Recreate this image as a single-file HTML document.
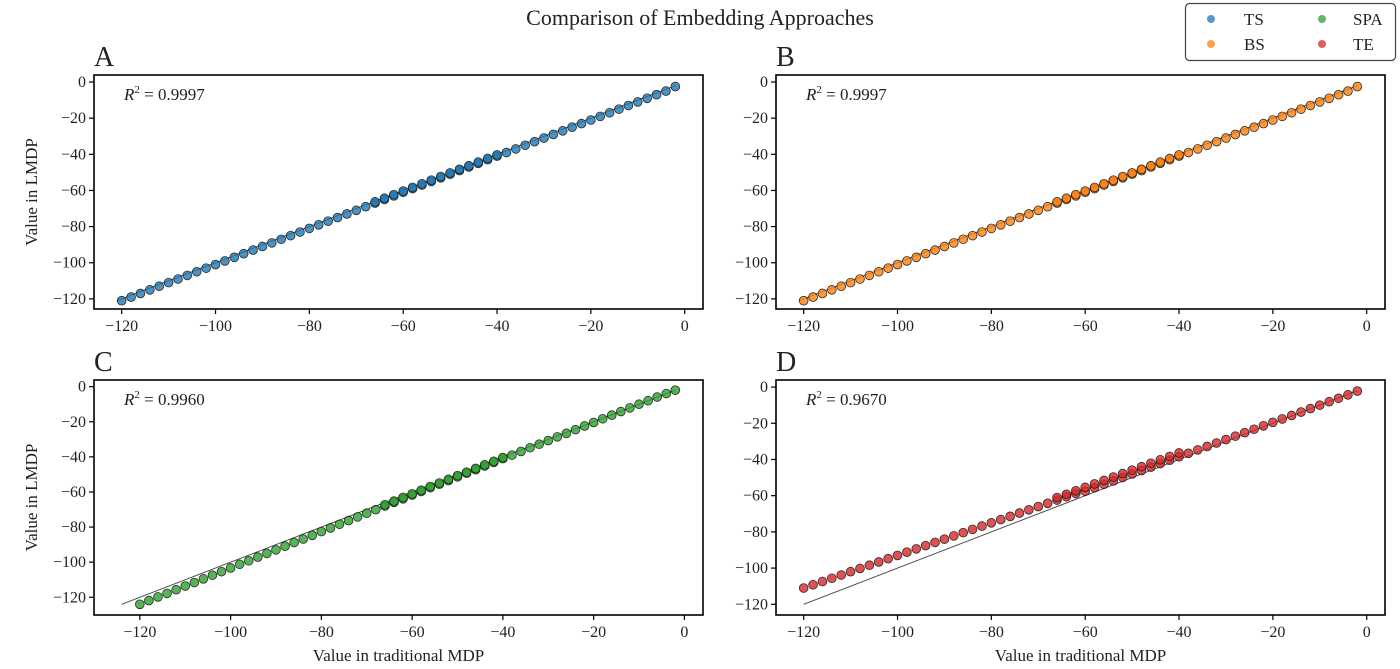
<!DOCTYPE html>
<html><head><meta charset="utf-8">
<style>
html,body{margin:0;padding:0;background:#fff;}
body{width:1400px;height:664px;overflow:hidden;font-family:"Liberation Serif",serif;}
svg text{font-family:"Liberation Serif",serif;fill:#222;}
</style></head>
<body>
<svg id="fig" width="1400" height="664" viewBox="0 0 1400 664" xmlns="http://www.w3.org/2000/svg">
<text x="700" y="25" text-anchor="middle" font-size="22">Comparison of Embedding Approaches</text>
<g>
<rect x="1185.5" y="3.5" width="210" height="57" rx="4" fill="#fff" stroke="#444" stroke-width="1.2"/>
<g><circle cx="1211" cy="19" r="4" fill="#1f77b4" fill-opacity="0.75"/><text x="1244" y="25" font-size="17">TS</text></g>
<g><circle cx="1322" cy="19" r="4" fill="#2ca02c" fill-opacity="0.75"/><text x="1353" y="25" font-size="17">SPA</text></g>
<g><circle cx="1211" cy="44" r="4" fill="#ff7f0e" fill-opacity="0.75"/><text x="1244" y="50" font-size="17">BS</text></g>
<g><circle cx="1322" cy="44" r="4" fill="#d62728" fill-opacity="0.75"/><text x="1353" y="50" font-size="17">TE</text></g>
</g>
</svg>
<script>
const xs = [-120,-118,-116,-114,-112,-110,-108,-106,-104,-102,
 -100,-98,-96,-94,-92,-90,-88,-86,-84,-82,
 -80,-78,-76,-74,-72,-70,-68,-66,-64,-62,
 -60,-58,-56,-54,-52,-50,-48,-46,-44,-42,
 -40,-38,-36,-34,-32,-30,-28,-26,-24,-22,
 -20,-18,-16,-14,-12,-10,-8,-6,-4,-2];
const yA = [-121,-119,-117,-115,-113,-111,-109,-107,-105,-103,
 -101,-99,-97,-95,-93,-91,-89,-87,-85,-83,
 -81,-79,-77,-75,-73,-71,-69,-67,-65,-63,
 -61,-59,-57,-55,-53,-51,-49,-47,-45,-43,
 -41,-39,-37,-35,-33,-31,-29,-27,-25,-23,
 -21,-19,-17,-15,-13,-11,-9,-7,-5,-2.5];
const yB = [-121,-119,-117,-115,-113,-111,-109,-107,-105,-103,
 -101,-99,-97,-95,-93,-91,-89,-87,-85,-83,
 -81,-79,-77,-75,-73,-71,-69,-67,-65,-63,
 -61,-59,-57,-55,-53,-51,-49,-47,-45,-43,
 -41,-39,-37,-35,-33,-31,-29,-27,-25,-23,
 -21,-19,-17,-15,-13,-11,-9,-7,-5,-2.5];
const yC = [-124,-121.9,-119.8,-117.8,-115.7,-113.6,-111.6,-109.5,-107.4,-105.4,
 -103.3,-101.2,-99.2,-97.1,-95,-93,-90.9,-88.8,-86.8,-84.7,
 -82.6,-80.5,-78.4,-76.3,-74.2,-72.1,-70.1,-68,-65.9,-63.9,
 -61.8,-59.7,-57.6,-55.6,-53.5,-51.4,-49.3,-47.3,-45.2,-43.1,
 -41,-39,-36.9,-34.8,-32.8,-30.7,-28.6,-26.6,-24.5,-22.4,
 -20.4,-18.3,-16.2,-14.2,-12.1,-10,-8,-5.9,-3.9,-2];
const yD = [-111,-109.2,-107.4,-105.6,-103.8,-102,-100.2,-98.4,-96.6,-94.8,
 -93,-91.2,-89.4,-87.6,-85.8,-84,-82.2,-80.4,-78.6,-76.8,
 -75,-73.2,-71.4,-69.6,-67.8,-66,-64.2,-62.4,-60.6,-58.8,
 -57.5,-55.6,-53.7,-51.8,-49.9,-48,-46.1,-44.2,-42.3,-40.4,
 -38.5,-36.6,-34.7,-32.8,-30.9,-29,-27.1,-25.2,-23.3,-21.4,
 -19.5,-17.6,-15.7,-13.8,-11.9,-10,-8.1,-6.2,-4.3,-2.2];
/* overlapping duplicate points (darker clusters) */
const xsDup = [-66,-64,-62,-60,-58,-56,-54,-52,-50,-48,-46,-44,-42,-40];
const yADup = [-66.3,-64.3,-62.3,-60.3,-58.3,-56.3,-54.3,-52.3,-50.3,-48.3,-46.3,-44.3,-42.3,-40.3];
const yBDup = [-66.3,-64.3,-62.3,-60.3,-58.3,-56.3,-54.3,-52.3,-50.3,-48.3,-46.3,-44.3,-42.3,-40.3];
const yCDup = [-67.3,-65.2,-63.1,-61.1,-59,-56.9,-54.9,-52.8,-50.7,-48.7,-46.6,-44.5,-42.5,-40.4];
const yDDup = [-61,-59.2,-57.3,-55.4,-53.5,-51.6,-49.7,-47.8,-45.9,-44,-42.1,-40.2,-38.3,-36.4];
const xTicks = [-120,-100,-80,-60,-40,-20,0];
const yTicks = [0,-20,-40,-60,-80,-100,-120];
const xTickLabels = ["\u2212120","\u2212100","\u221280","\u221260","\u221240","\u221220","0"];
const yTickLabels = ["0","\u221220","\u221240","\u221260","\u221280","\u2212100","\u2212120"];
const r2Labels = ["0.9997","0.9997","0.9960","0.9670"];
const lineRanges = [[-121,-2],[-121,-2],[-124,-2],[-120,-2]];

const NS = "http://www.w3.org/2000/svg";
const fig = document.getElementById('fig');
function mk(tag, attrs, parent){const e=document.createElementNS(NS,tag);for(const k in attrs)e.setAttribute(k,attrs[k]);(parent||fig).appendChild(e);return e;}

const panels = [
 {id:'a',label:'A',L:94,T:75,R:703,B:309,xd:[-125.9,3.9],yd:[-125.6,3.9],ys:yA,dup:yADup,color:'#1f77b4',ylab:true,xlab:false},
 {id:'b',label:'B',L:776,T:75,R:1385,B:309,xd:[-125.9,3.9],yd:[-125.6,3.9],ys:yB,dup:yBDup,color:'#ff7f0e',ylab:false,xlab:false},
 {id:'c',label:'C',L:94,T:380,R:703,B:615,xd:[-130.1,4.1],yd:[-130.1,3.8],ys:yC,dup:yCDup,color:'#2ca02c',ylab:true,xlab:true},
 {id:'d',label:'D',L:776,T:380,R:1385,B:615,xd:[-125.9,3.9],yd:[-125.9,3.9],ys:yD,dup:yDDup,color:'#d62728',ylab:false,xlab:true}
];
panels.forEach((p,pi)=>{
 const g = mk('g',{});
 
 
 const sx = v => p.L + (v-p.xd[0])/(p.xd[1]-p.xd[0])*(p.R-p.L);
 const sy = v => p.B - (v-p.yd[0])/(p.yd[1]-p.yd[0])*(p.B-p.T);
 const pl = mk('text',{x:p.L,y:p.T-9,'font-size':28},g);
 pl.textContent = p.label;
 
 
 // identity line
 const lr = lineRanges[pi];
 const ln = mk('line',{x1:sx(lr[0]),y1:sy(lr[0]),x2:sx(lr[1]),y2:sy(lr[1]),stroke:'#333','stroke-width':1,'stroke-opacity':0.9},g);
 
 
 const pts = mk('g',{},g);
 
 
 xs.forEach((x,i)=>{
  const c = mk('circle',{cx:sx(x),cy:sy(p.ys[i]),r:4.4,fill:p.color,'fill-opacity':0.8,stroke:'#111','stroke-width':0.8,'stroke-opacity':0.85},pts);
  
  
 });
 xsDup.forEach((x,i)=>{
  const c = mk('circle',{cx:sx(x),cy:sy(p.dup[i]),r:4.4,fill:p.color,'fill-opacity':0.8,stroke:'#111','stroke-width':0.8,'stroke-opacity':0.85},pts);
  
  
 });
 const fr = mk('rect',{x:p.L,y:p.T,width:p.R-p.L,height:p.B-p.T,fill:'none',stroke:'#000','stroke-width':1.6},g);
 
 
 xTicks.forEach((t,i)=>{
  const x = sx(t);
  mk('line',{x1:x,y1:p.B,x2:x,y2:p.B+5,stroke:'#000','stroke-width':1.2},g);
  const tx = mk('text',{x:x,y:p.B+22,'font-size':16,'text-anchor':'middle'},g);
  tx.textContent = xTickLabels[i];
  
  
 });
 yTicks.forEach((t,i)=>{
  const y = sy(t);
  mk('line',{x1:p.L-5,y1:y,x2:p.L,y2:y,stroke:'#000','stroke-width':1.2},g);
  const tx = mk('text',{x:p.L-8,y:y+5,'font-size':16,'text-anchor':'end'},g);
  tx.textContent = yTickLabels[i];
  
  
 });
 const r2 = mk('text',{x:p.L+30,y:p.T+25,'font-size':17},g);
 
 
 const t1 = mk('tspan',{'font-style':'italic'},r2); t1.textContent='R';
 const t2 = mk('tspan',{'font-size':11,dy:-7},r2); t2.textContent='2';
 const t3 = mk('tspan',{dy:7},r2); t3.textContent=' = '+r2Labels[pi];
 if(p.ylab){
  const yl = mk('text',{x:0,y:0,'font-size':17,'text-anchor':'middle',transform:`translate(37,${(p.T+p.B)/2}) rotate(-90)`},g);
  yl.textContent='Value in LMDP';
  
  
 }
 if(p.xlab){
  const xl = mk('text',{x:(p.L+p.R)/2,y:661,'font-size':17,'text-anchor':'middle'},g);
  xl.textContent='Value in traditional MDP';
  
  
 }
});
</script>
</body></html>
